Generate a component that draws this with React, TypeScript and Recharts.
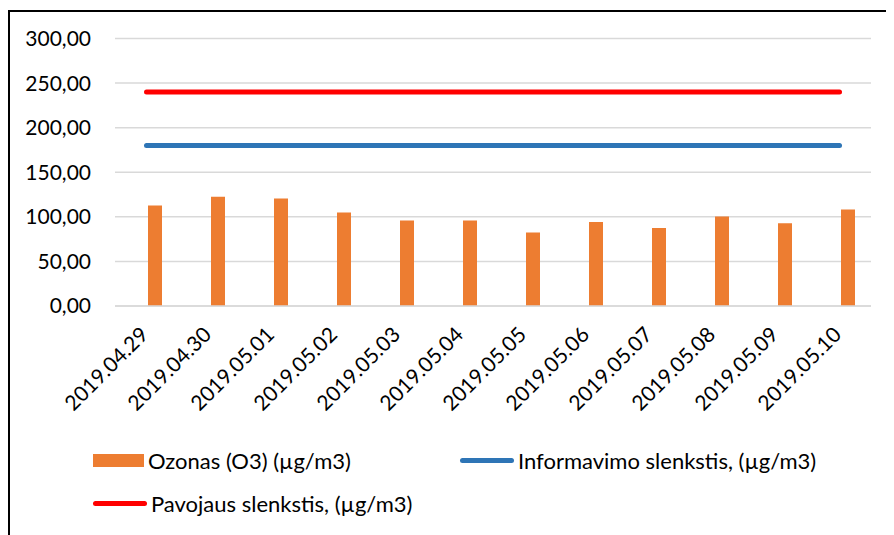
import { ComposedChart, Bar, Line, XAxis, YAxis, CartesianGrid, Legend } from "recharts";

const dates = [
  "2019.04.29", "2019.04.30", "2019.05.01", "2019.05.02", "2019.05.03", "2019.05.04",
  "2019.05.05", "2019.05.06", "2019.05.07", "2019.05.08", "2019.05.09", "2019.05.10",
];
const ozone = [112.7, 122.5, 120.6, 104.8, 95.8, 95.8, 82.3, 94.3, 87.6, 100.3, 92.8, 108.2];
const infoThreshold = [180, 180, 180, 180, 180, 180, 180, 180, 180, 180, 180, 180];
const alertThreshold = [240, 240, 240, 240, 240, 240, 240, 240, 240, 240, 240, 240];
const yTicks = [0, 50, 100, 150, 200, 250, 300];
const seriesNames = ["Ozonas (O3) (µg/m3)", "Informavimo slenkstis, (µg/m3)", "Pavojaus slenkstis, (µg/m3)"];

const FONT = "Lato, 'Liberation Sans', sans-serif";

const data = dates.map((d, i) => ({
  date: d,
  ozone: ozone[i],
  info: infoThreshold[i],
  alert: alertThreshold[i],
}));

function DateTick(props: any) {
  const { x, y, payload } = props;
  return (
    <g transform={`translate(${x + 3},${y})`}>
      <text textAnchor="end" transform="rotate(-45)" fontSize={21} fontFamily={FONT} fill="#000">
        {payload.value}
      </text>
    </g>
  );
}

function LegendContent(props: any) {
  const items = (props.payload ?? [])
    .filter((p: any) => p.type !== "none")
    .sort((a: any, b: any) => seriesNames.indexOf(a.value) - seriesNames.indexOf(b.value));
  return (
    <div style={{ display: "flex", flexWrap: "wrap", width: 760, fontFamily: FONT, fontSize: 22, color: "#000" }}>
      {items.map((p: any) => (
        <div key={p.value} style={{ width: 367, height: 43, display: "flex", alignItems: "center" }}>
          {p.type === "rect" ? (
            <span style={{ width: 51, height: 13, background: p.color, display: "inline-block" }} />
          ) : (
            <span style={{ width: 54, height: 5, borderRadius: 3, background: p.color, display: "inline-block" }} />
          )}
          <span style={{ marginLeft: 4, whiteSpace: "nowrap" }}>{p.value}</span>
        </div>
      ))}
    </div>
  );
}

export default function App() {
  return (
    <div style={{
      marginTop: 2,
      width: 886,
      height: 525,
      borderTop: "2px solid #000",
      borderLeft: "2px solid #000",
      boxSizing: "border-box",
      overflow: "hidden",
    }}>
      <ComposedChart
        width={884}
        height={523}
        data={data}
        barGap={2}
        margin={{ top: 26.5, right: 23, left: 0, bottom: 109 }}
      >
        <CartesianGrid vertical={false} stroke="#D9D9D9" strokeWidth={1.5} />
        <XAxis
          dataKey="date"
          interval={0}
          height={120}
          tickLine={false}
          axisLine={{ stroke: "#D9D9D9", strokeWidth: 1.5 }}
          tickMargin={24}
          tick={<DateTick />}
        />
        <YAxis
          width={105}
          domain={[0, 300]}
          ticks={yTicks}
          axisLine={false}
          tickLine={false}
          tickMargin={18}
          tick={{ fontSize: 21, fontFamily: FONT, fill: "#000" }}
          tickFormatter={(v: number) => v.toFixed(2).replace(".", ",")}
        />
        <Bar dataKey="spacer" barSize={14} fill="none" legendType="none" isAnimationActive={false} />
        <Bar dataKey="ozone" name={seriesNames[0]} barSize={14} fill="#ED7D31" legendType="rect" isAnimationActive={false} />
        <Line
          dataKey="info"
          name={seriesNames[1]}
          stroke="#2E75B6"
          strokeWidth={5}
          strokeLinecap="round"
          dot={false}
          legendType="line"
          isAnimationActive={false}
        />
        <Line
          dataKey="alert"
          name={seriesNames[2]}
          stroke="#FF0000"
          strokeWidth={5}
          strokeLinecap="round"
          dot={false}
          legendType="line"
          isAnimationActive={false}
        />
        <Legend
          layout="vertical"
          align="center"
          verticalAlign="middle"
          content={<LegendContent />}
          wrapperStyle={{ left: 83, top: 426.5, width: 760 }}
        />
      </ComposedChart>
    </div>
  );
}
